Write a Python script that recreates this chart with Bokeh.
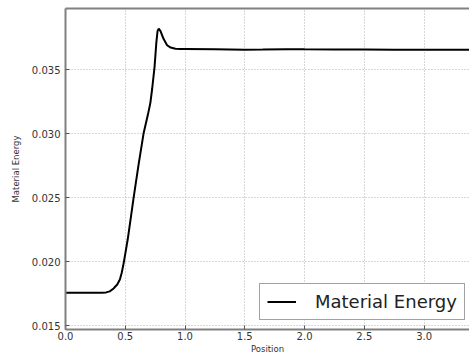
from bokeh.plotting import figure
from bokeh.models import (Range1d, FixedTicker, NumeralTickFormatter, LinearAxis,
                          Legend, LegendItem)
from bokeh.embed import file_html
from bokeh.resources import INLINE

position = [0.00, 0.10, 0.20, 0.30, 0.34, 0.37, 0.40, 0.415, 0.433, 0.455,
            0.47, 0.485, 0.50, 0.52, 0.54, 0.57, 0.61, 0.653, 0.69, 0.71,
            0.725, 0.745, 0.76, 0.77, 0.78, 0.795, 0.82, 0.85, 0.88, 0.92,
            0.96, 1.00, 1.25, 1.50, 1.65, 1.85, 2.00, 2.25, 2.50, 2.75, 3.00,
            3.25, 3.40]
energy = [0.01757, 0.01757, 0.01757, 0.01757, 0.01759, 0.01767, 0.01787,
          0.01803, 0.0182, 0.0186, 0.0191, 0.0198, 0.0206, 0.0217, 0.0230,
          0.0250, 0.0275, 0.0300, 0.0315, 0.0324, 0.0335, 0.0352, 0.0371,
          0.0380, 0.0382, 0.0380, 0.0374, 0.0369, 0.03672, 0.03663, 0.0366,
          0.0366, 0.03659, 0.03655, 0.03656, 0.03659, 0.03658, 0.03657,
          0.03656, 0.03655, 0.03655, 0.03655, 0.03655]
x_ticks = [0.0, 0.5, 1.0, 1.5, 2.0, 2.5, 3.0]
y_ticks = [0.015, 0.020, 0.025, 0.030, 0.035]

p = figure(width=469, height=356, output_backend="svg", toolbar_location=None,
           x_range=Range1d(0, 3.38), y_range=Range1d(0.01469, 0.03977),
           min_border_left=65, min_border_right=0, min_border_top=8,
           min_border_bottom=27)
p.outline_line_color = None
p.background_fill_color = "white"
p.border_fill_color = "white"

line = p.line(position, energy, line_color="black", line_width=2)

for ax in (p.xaxis[0], p.yaxis[0]):
    ax.axis_line_color = "#808080"
    ax.axis_line_width = 2
    ax.major_tick_in = 4
    ax.major_tick_out = 0
    ax.minor_tick_line_color = None
    ax.major_tick_line_color = "#555555"
    ax.major_label_text_font = "DejaVu Sans"
    ax.major_label_text_font_size = "10px"
    ax.major_label_text_color = "#333333"
    ax.axis_label_text_font = "DejaVu Sans"
    ax.axis_label_text_font_size = "8.5px"
    ax.axis_label_text_font_style = "normal"
    ax.axis_label_text_color = "#333333"

p.xaxis[0].ticker = FixedTicker(ticks=x_ticks)
p.xaxis[0].formatter = NumeralTickFormatter(format="0.0")
p.xaxis[0].axis_label = "Position"
p.xaxis[0].major_label_standoff = 2
p.xaxis[0].axis_label_standoff = 1
p.yaxis[0].ticker = FixedTicker(ticks=y_ticks)
p.yaxis[0].formatter = NumeralTickFormatter(format="0.000")
p.yaxis[0].axis_label = "Material Energy"
p.yaxis[0].major_label_standoff = 5
p.yaxis[0].axis_label_standoff = 8

top = LinearAxis(major_tick_line_color=None, minor_tick_line_color=None,
                 major_label_text_font_size="0px", axis_line_color="#808080",
                 axis_line_width=2, ticker=FixedTicker(ticks=[]))
p.add_layout(top, "above")

p.grid.grid_line_color = "#b0b0b0"
p.grid.grid_line_dash = "1 2"
p.grid.grid_line_width = 1
p.xgrid[0].ticker = FixedTicker(ticks=x_ticks)
p.ygrid[0].ticker = FixedTicker(ticks=y_ticks)

legend = Legend(items=[LegendItem(label="Material Energy", renderers=[line])],
                location=(194, 9), padding=7, label_standoff=19,
                glyph_width=29, glyph_height=15, label_height=15,
                label_text_font="DejaVu Sans", label_text_font_size="18px",
                label_text_color="#222222", border_line_color="#444444",
                border_line_width=1, background_fill_alpha=1, margin=0,
                spacing=0)
p.add_layout(legend, "center")

open("out.html", "w").write(file_html(p, INLINE))
